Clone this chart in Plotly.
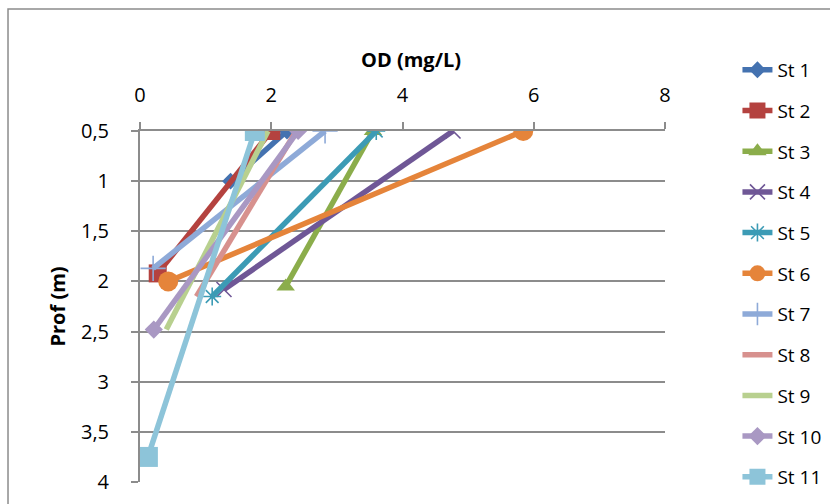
import plotly.graph_objects as go

# Dissolved oxygen (OD, mg/L) against depth (Prof, m) for each station
stations = ["St 1", "St 2", "St 3", "St 4", "St 5", "St 6",
            "St 7", "St 8", "St 9", "St 10", "St 11"]

prof_st1 = [0.5, 1.0]
od_st1 = [2.24, 1.38]
prof_st2 = [0.5, 1.92]
od_st2 = [2.0, 0.27]
prof_st3 = [0.5, 2.05]
od_st3 = [3.55, 2.22]
prof_st4 = [0.5, 2.08]
od_st4 = [4.77, 1.28]
prof_st5 = [0.5, 2.15]
od_st5 = [3.6, 1.1]
prof_st6 = [0.5, 2.0]
od_st6 = [5.84, 0.43]
prof_st7 = [0.5, 1.87]
od_st7 = [2.82, 0.2]
prof_st8 = [0.5, 2.15]
od_st8 = [2.38, 0.86]
prof_st9 = [0.5, 2.48]
od_st9 = [1.95, 0.4]
prof_st10 = [0.5, 2.48]
od_st10 = [2.41, 0.21]
prof_st11 = [0.5, 3.75]
od_st11 = [1.75, 0.12]

od_values = [od_st1, od_st2, od_st3, od_st4, od_st5, od_st6,
             od_st7, od_st8, od_st9, od_st10, od_st11]
prof_values = [prof_st1, prof_st2, prof_st3, prof_st4, prof_st5, prof_st6,
               prof_st7, prof_st8, prof_st9, prof_st10, prof_st11]

colors = ["#4472B0", "#B4423F", "#8BAD4B", "#6F5796", "#3C9BB5", "#E5843A",
          "#8EAAD8", "#D7918E", "#B8D08F", "#A998C3", "#8DC4D9"]

# marker style per station: (symbol, size, outline width); None = line only
markers = [
    ("diamond", 13, 0),
    ("square", 18, 0),
    ("triangle-up", 16, 0),
    ("x-thin", 15, 1.6),
    ("asterisk", 15, 1.6),
    ("circle", 20, 0),
    ("cross-thin", 18, 1.6),
    None,
    None,
    ("diamond", 14, 0),
    ("square", 20, 0),
]

FONT = "Open Sans"
GRID = "#8C8C8C"

fig = go.Figure()
for i, name in enumerate(stations):
    mk = markers[i]
    if mk is None:
        mode = "lines"
        marker = None
    else:
        mode = "lines+markers"
        sym, size, lw = mk
        marker = dict(symbol=sym, size=size, color=colors[i],
                      line=dict(width=lw, color=colors[i]))
    fig.add_trace(go.Scatter(
        x=od_values[i], y=prof_values[i], name=name, mode=mode,
        line=dict(color=colors[i], width=5.5),
        marker=marker, legendgroup=name,
    ))

fig.update_xaxes(
    side="top", range=[0, 8], dtick=2, tick0=0,
    showgrid=False, zeroline=False,
    showline=True, linecolor=GRID, linewidth=2,
    ticks="outside", ticklen=7, tickcolor=GRID, tickwidth=1.5,
    ticklabelstandoff=12,
    tickfont=dict(family=FONT, size=20, color="black"),
)
fig.update_yaxes(
    range=[4, 0.5], dtick=0.5, tick0=0.5,
    showgrid=True, gridcolor=GRID, gridwidth=2,
    zeroline=False,
    showline=True, linecolor=GRID, linewidth=2,
    ticks="outside", ticklen=7, tickcolor=GRID, tickwidth=1.5,
    ticklabelstandoff=18,
    tickfont=dict(family=FONT, size=20, color="black"),
)

fig.update_layout(
    width=830, height=504, autosize=False,
    margin=dict(l=140, r=165, t=131, b=22, autoexpand=False),
    paper_bgcolor="white", plot_bgcolor="white",
    separators=",.",
    font=dict(family=FONT, size=18, color="black"),
    showlegend=True,
    legend=dict(
        x=1.138, xanchor="left", y=1.228, yanchor="top",
        font=dict(family=FONT, size=19, color="black"),
        tracegroupgap=13, bgcolor="rgba(0,0,0,0)",
        itemsizing="trace", maxheight=480,
    ),
    annotations=[
        dict(text="<b>OD (mg/L)</b>", xref="paper", yref="paper",
             x=0.516, y=1.205, xanchor="center", yanchor="middle",
             showarrow=False, font=dict(family=FONT, size=20, color="black")),
        dict(text="<b>Prof (m)</b>", xref="paper", yref="paper",
             x=-0.158, y=0.5, xanchor="center", yanchor="middle",
             textangle=-90, showarrow=False,
             font=dict(family=FONT, size=20, color="black")),
    ],
    shapes=[
        dict(type="rect", xref="paper", yref="paper",
             x0=-0.2514, y0=-0.5, x1=2.0, y1=1.3476,
             line=dict(color=GRID, width=1.5), fillcolor="rgba(0,0,0,0)",
             layer="below"),
    ],
)

fig.write_html("out.html")
